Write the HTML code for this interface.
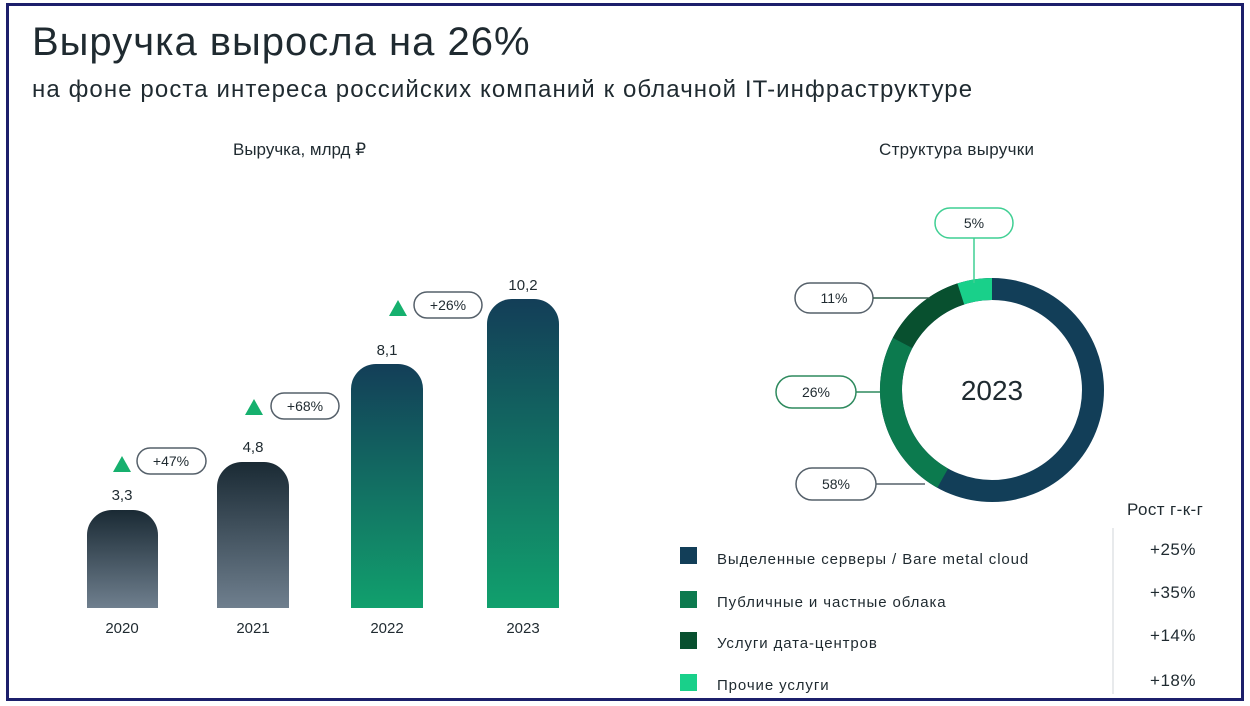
<!DOCTYPE html>
<html><head><meta charset="utf-8"><style>
body{margin:0;width:1250px;height:706px;background:#fff;overflow:hidden;font-family:"Liberation Sans","DejaVu Sans",sans-serif;color:#1f2a30}
.frame{position:absolute;left:6px;top:3px;width:1232px;height:692px;border:3px solid #1c1f6b}
.t{position:absolute;white-space:nowrap}
</style></head><body>
<div class="frame"></div>
<div class="t" style="left:32px;top:20px;font-size:40px;letter-spacing:1px;color:#1f2a30">Выручка выросла на 26%</div>
<div class="t" style="left:32px;top:76px;font-size:24px;letter-spacing:1.1px;color:#1f2a30">на фоне роста интереса российских компаний к облачной IT-инфраструктуре</div>
<div class="t" style="left:233px;top:140px;font-size:17px">Выручка, млрд ₽</div>
<div class="t" style="left:879px;top:140px;font-size:17px;letter-spacing:0.3px">Структура выручки</div>
<svg width="1250" height="706" style="position:absolute;left:0;top:0" font-family="Liberation Sans, sans-serif">
<defs>
<linearGradient id="g1" x1="0" y1="0" x2="0" y2="1"><stop offset="0" stop-color="#1a2a34"/><stop offset="1" stop-color="#6f7f8e"/></linearGradient>
<linearGradient id="g2" x1="0" y1="0" x2="0" y2="1"><stop offset="0" stop-color="#133e58"/><stop offset="1" stop-color="#11a06d"/></linearGradient>
</defs>
<path d="M87,608 V535 a25,25 0 0 1 25,-25 h21 a25,25 0 0 1 25,25 V608Z" fill="url(#g1)"/>
<path d="M217,608 V487 a25,25 0 0 1 25,-25 h22 a25,25 0 0 1 25,25 V608Z" fill="url(#g1)"/>
<path d="M351,608 V389 a25,25 0 0 1 25,-25 h22 a25,25 0 0 1 25,25 V608Z" fill="url(#g2)"/>
<path d="M487,608 V324 a25,25 0 0 1 25,-25 h22 a25,25 0 0 1 25,25 V608Z" fill="url(#g2)"/>
<g font-size="15" fill="#1f2a30" text-anchor="middle">
<text x="122" y="500">3,3</text><text x="253" y="452">4,8</text><text x="387" y="355">8,1</text><text x="523" y="290">10,2</text>
<text x="122" y="633">2020</text><text x="253" y="633">2021</text><text x="387" y="633">2022</text><text x="523" y="633">2023</text>
</g>
<g fill="#16b06e"><path d="M113,472 l9,-16 l9,16Z"/><path d="M245,415 l9,-16 l9,16Z"/><path d="M389,316 l9,-16 l9,16Z"/></g>
<g fill="none" stroke="#55606a" stroke-width="1.5">
<rect x="137" y="448" width="69" height="26" rx="13"/><rect x="271" y="393" width="68" height="26" rx="13"/><rect x="414" y="292" width="68" height="26" rx="13"/>
</g>
<g font-size="14" fill="#1f2a30" text-anchor="middle"><text x="171" y="466">+47%</text><text x="305" y="411">+68%</text><text x="448" y="310">+26%</text></g>
<g transform="translate(992,390)" fill="none" stroke-width="22">
<circle r="101" stroke="#123e58"/>
<path d="M-49.3,88.2 A101,101 0 0 1 -89.4,-47.1" stroke="#0c7a4e"/>
<path d="M-89.4,-47.1 A101,101 0 0 1 -31.2,-96.1" stroke="#08502f"/>
<path d="M-31.2,-96.1 A101,101 0 0 1 0,-101" stroke="#19d08a"/>
</g>
<text x="992" y="400" font-size="28" text-anchor="middle" fill="#1f2a30">2023</text>
<g fill="none" stroke-width="1.5">
<rect x="935" y="208" width="78" height="30" rx="15" stroke="#3fcf93"/><line x1="974" y1="238" x2="974" y2="283" stroke="#3fcf93"/>
<rect x="795" y="283" width="78" height="30" rx="15" stroke="#55606a"/><line x1="873" y1="298" x2="930" y2="298" stroke="#2f5a48"/>
<rect x="776" y="376" width="80" height="32" rx="16" stroke="#2e8a5e"/><line x1="856" y1="392" x2="880" y2="392" stroke="#2e8a5e"/>
<rect x="796" y="468" width="80" height="32" rx="16" stroke="#55606a"/><line x1="876" y1="484" x2="925" y2="484" stroke="#55606a"/>
</g>
<g font-size="14" fill="#1f2a30" text-anchor="middle"><text x="974" y="228">5%</text><text x="834" y="303">11%</text><text x="816" y="397">26%</text><text x="836" y="489">58%</text></g>
<rect x="680" y="547" width="17" height="17" fill="#123e58"/>
<rect x="680" y="591" width="17" height="17" fill="#0c7a4e"/>
<rect x="680" y="632" width="17" height="17" fill="#08502f"/>
<rect x="680" y="674" width="17" height="17" fill="#19d08a"/>
<g font-size="15" fill="#1f2a30" letter-spacing="0.9"><text x="717" y="564">Выделенные серверы / Bare metal cloud</text><text x="717" y="607">Публичные и частные облака</text><text x="717" y="648">Услуги дата-центров</text><text x="717" y="690">Прочие услуги</text></g>
<line x1="1113" y1="528" x2="1113" y2="694" stroke="#d0d4d8"/>
<text x="1127" y="515" font-size="17" fill="#1f2a30" letter-spacing="0.4">Рост г-к-г</text>
<g font-size="17" fill="#1f2a30" text-anchor="middle" letter-spacing="0.5"><text x="1173" y="555">+25%</text><text x="1173" y="598">+35%</text><text x="1173" y="641">+14%</text><text x="1173" y="686">+18%</text></g>
</svg>
</body></html>
